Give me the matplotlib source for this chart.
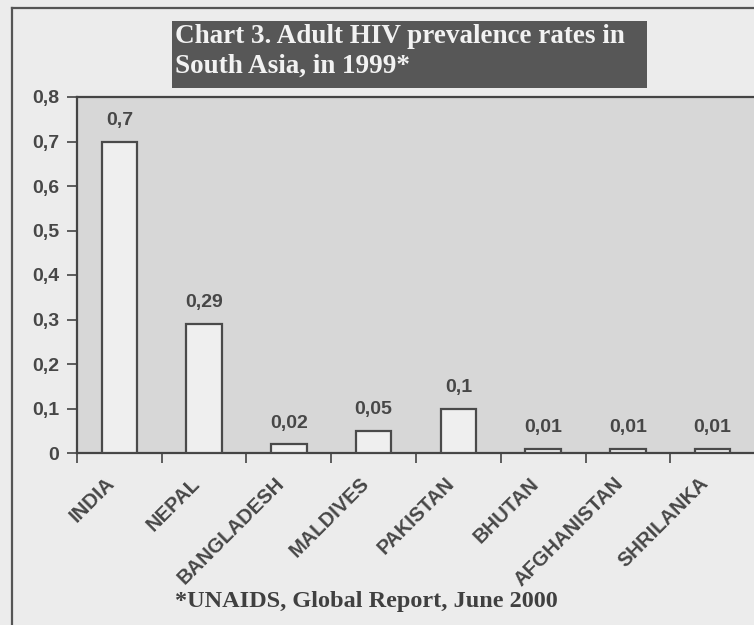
import matplotlib
matplotlib.use("Agg")
import matplotlib.pyplot as plt
from matplotlib.patches import Rectangle
from matplotlib.lines import Line2D
from matplotlib.transforms import ScaledTranslation

countries = ["INDIA", "NEPAL", "BANGLADESH", "MALDIVES", "PAKISTAN", "BHUTAN", "AFGHANISTAN", "SHRILANKA"]
rates = [0.7, 0.29, 0.02, 0.05, 0.1, 0.01, 0.01, 0.01]
labels = ["0,7", "0,29", "0,02", "0,05", "0,1", "0,01", "0,01", "0,01"]
yticks = [0, 0.1, 0.2, 0.3, 0.4, 0.5, 0.6, 0.7, 0.8]
yticklabels = ["0", "0,1", "0,2", "0,3", "0,4", "0,5", "0,6", "0,7", "0,8"]

W, H = 754, 625
fig = plt.figure(figsize=(W / 100, H / 100), dpi=100)
fig.patch.set_facecolor("#ececec")
ink = "#474747"

# outer frame lines
fig.add_artist(Line2D([12 / W, 12 / W], [0, 1 - 8 / H], color="#555555", lw=1.6, transform=fig.transFigure))
fig.add_artist(Line2D([12 / W, 1], [1 - 8 / H, 1 - 8 / H], color="#555555", lw=1.6, transform=fig.transFigure))

ax = fig.add_axes([77 / W, 1 - 453 / H, 678 / W, (453 - 97) / H])
ax.set_facecolor("#d7d7d7")
x = list(range(len(countries)))
ax.bar(x, rates, width=0.42, color="#efefef", edgecolor="#4a4a4a", linewidth=1.6, zorder=3)
for xi, v, lab in zip(x, rates, labels):
    ax.annotate(lab, (xi, v), xytext=(0, 9), textcoords="offset points", ha="center", va="bottom",
                fontsize=14, fontweight="bold", color=ink, family="Liberation Sans")

ax.set_xlim(-0.5, len(countries) - 0.5)
ax.set_ylim(0, 0.8)
ax.set_yticks(yticks)
ax.set_yticklabels(yticklabels, fontsize=14, fontweight="bold", color=ink, family="Liberation Sans")
ax.set_xticks([i - 0.5 for i in range(len(countries))])
ax.set_xticklabels([])
ax.set_xticks(x, minor=True)
ax.set_xticklabels(countries, minor=True, rotation=45, ha="right", va="top", rotation_mode="anchor",
                   fontsize=14.5, fontweight="bold", color=ink, family="Liberation Sans")
ax.tick_params(axis="x", which="minor", length=0, pad=15)
ax.tick_params(axis="x", which="major", length=7, width=1.2, color="#444444", direction="out")
ax.tick_params(axis="y", length=7, width=1.2, color="#444444", direction="out", pad=6)
shift = ScaledTranslation(-14 / 100, 0, fig.dpi_scale_trans)
for lab in ax.get_xticklabels(minor=True):
    lab.set_transform(lab.get_transform() + shift)
for s in ["left", "bottom", "top"]:
    ax.spines[s].set_color("#444444")
    ax.spines[s].set_linewidth(1.6)
ax.spines["right"].set_visible(False)

# title box
fig.add_artist(Rectangle((172 / W, 1 - 88 / H), (647 - 172) / W, (88 - 21) / H, transform=fig.transFigure,
                         facecolor="#575757", edgecolor="none"))
fig.text(175 / W, 1 - 43 / H, "Chart 3. Adult HIV prevalence rates in",
         ha="left", va="baseline", fontsize=19.5, fontweight="bold", color="#f2f2f2",
         family="Liberation Serif")
fig.text(175 / W, 1 - 73 / H, "South Asia, in 1999*",
         ha="left", va="baseline", fontsize=19.5, fontweight="bold", color="#f2f2f2",
         family="Liberation Serif")

fig.text(175 / W, 1 - 607 / H, "*UNAIDS, Global Report, June 2000", ha="left", va="baseline",
         fontsize=17.5, fontweight="bold", color="#404040", family="Liberation Serif")

fig.savefig("out.png", dpi=100, facecolor=fig.get_facecolor())
